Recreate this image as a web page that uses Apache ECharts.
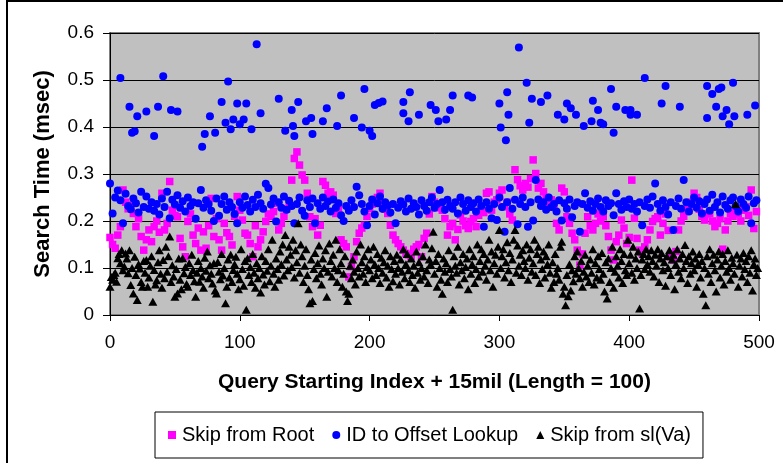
<!DOCTYPE html>
<html><head><meta charset="utf-8">
<script src="https://cdn.jsdelivr.net/npm/echarts@6/dist/echarts.min.js"></script>
<style>html,body{margin:0;padding:0;background:#fff}#c{width:783px;height:463px}</style>
</head><body><div id="c"></div>
<script>
// Query index (x) positions
const evenIndex = Array.from({length: 250}, (_, i) => i * 2);
const allIndex = Array.from({length: 500}, (_, i) => i);
const xTicks = [0, 100, 200, 300, 400, 500];
const yTicks = [0, 0.1, 0.2, 0.3, 0.4, 0.5, 0.6];

// Skip from Root (magenta), at even indexes
const skipFromRoot = [
0.165,0.150,0.142,0.170,0.188, 0.266,0.240,0.226,0.234,0.216,
0.188,0.205,0.167,0.138,0.160, 0.181,0.156,0.188,0.200,0.176,
0.259,0.181,0.195,0.284,0.223, 0.212,0.209,0.163,0.145,0.124,
0.199,0.215,0.170,0.152,0.185, 0.138,0.177,0.142,0.190,0.248,
0.167,0.205,0.160,0.138,0.195, 0.175,0.167,0.149,0.210,0.252,
0.223,0.202,0.174,0.170,0.152, 0.124,0.190,0.145,0.160,0.177,
0.199,0.215,0.210,0.220,0.238, 0.181,0.195,0.210,0.225,0.238,
0.287,0.333,0.347,0.319,0.298, 0.287,0.259,0.209,0.188,0.205,
0.170,0.191,0.284,0.276,0.259, 0.262,0.255,0.216,0.228,0.160,
0.152,0.145,0.081,0.103,0.124, 0.156,0.174,0.185,0.191,0.210,
0.227,0.236,0.245,0.250,0.259, 0.238,0.225,0.216,0.191,0.170,
0.160,0.152,0.145,0.138,0.131, 0.128,0.124,0.140,0.145,0.150,
0.124,0.163,0.174,0.215,0.252, 0.240,0.228,0.234,0.223,0.205,
0.170,0.188,0.195,0.160,0.182, 0.213,0.200,0.190,0.184,0.199,
0.205,0.188,0.212,0.225,0.218, 0.259,0.262,0.223,0.240,0.245,
0.259,0.266,0.230,0.240,0.215, 0.202,0.309,0.288,0.275,0.266,
0.280,0.272,0.290,0.330,0.301, 0.270,0.280,0.262,0.250,0.230,
0.245,0.230,0.195,0.181,0.270, 0.262,0.209,0.195,0.174,0.160,
0.138,0.106,0.130,0.174,0.209, 0.190,0.181,0.195,0.215,0.200,
0.209,0.190,0.167,0.138,0.117, 0.156,0.170,0.202,0.185,0.152,
0.165,0.287,0.206,0.163,0.138, 0.131,0.145,0.160,0.181,0.199,
0.205,0.209,0.170,0.195,0.215, 0.180,0.124,0.117,0.135,0.181,
0.200,0.210,0.225,0.223,0.240, 0.259,0.250,0.225,0.210,0.202,
0.215,0.216,0.200,0.188,0.195, 0.205,0.140,0.181,0.200,0.216,
0.210,0.228,0.215,0.200,0.223, 0.230,0.212,0.266,0.184,0.220
];

// ID to Offset Lookup (blue), main band at even indexes
const idLookupBand = [
0.280,0.216,0.250,0.265,0.244, 0.195,0.258,0.232,0.225,0.248,
0.238,0.218,0.262,0.230,0.252, 0.226,0.240,0.222,0.236,0.214,
0.248,0.230,0.262,0.206,0.245, 0.235,0.255,0.228,0.242,0.220,
0.250,0.232,0.240,0.205,0.238, 0.266,0.228,0.244,0.236,0.222,
0.200,0.248,0.211,0.236,0.252, 0.224,0.240,0.230,0.215,0.195,
0.240,0.228,0.252,0.234,0.220, 0.245,0.230,0.256,0.238,0.226,
0.279,0.270,0.235,0.248,0.199, 0.240,0.228,0.252,0.224,0.243,
0.232,0.195,0.236,0.250,0.222, 0.211,0.244,0.230,0.248,0.195,
0.238,0.226,0.250,0.232,0.242, 0.220,0.246,0.228,0.238,0.212,
0.200,0.232,0.222,0.244,0.230, 0.273,0.255,0.236,0.220,0.191,
0.232,0.246,0.214,0.238,0.252, 0.226,0.240,0.233,0.218,0.236,
0.195,0.228,0.242,0.235,0.220, 0.248,0.226,0.238,0.230,0.214,
0.244,0.232,0.222,0.240,0.250, 0.228,0.236,0.266,0.240,0.224,
0.245,0.232,0.226,0.240,0.216, 0.250,0.236,0.222,0.244,0.230,
0.238,0.220,0.246,0.232,0.188, 0.240,0.226,0.206,0.236,0.202,
0.250,0.230,0.177,0.240,0.270, 0.226,0.245,0.193,0.236,0.250,
0.230,0.188,0.240,0.201,0.287, 0.246,0.232,0.240,0.224,0.250,
0.230,0.236,0.220,0.244,0.201, 0.238,0.226,0.246,0.208,0.232,
0.240,0.177,0.236,0.259,0.228, 0.242,0.222,0.236,0.248,0.230,
0.220,0.244,0.232,0.238,0.212, 0.259,0.236,0.224,0.242,0.230,
0.246,0.226,0.236,0.220,0.240, 0.191,0.232,0.246,0.228,0.252,
0.280,0.236,0.222,0.244,0.230, 0.214,0.240,0.181,0.232,0.248,
0.226,0.287,0.240,0.220,0.236, 0.250,0.228,0.242,0.216,0.236,
0.246,0.222,0.256,0.230,0.240, 0.218,0.252,0.234,0.226,0.244,
0.250,0.232,0.220,0.246,0.236, 0.228,0.252,0.195,0.238,0.244
];

// ID to Offset Lookup (blue), slow queries: [index, msec]
const idLookupSlow = [
[8,0.504],[15,0.443],[17,0.388],[19,0.391],[21,0.423],[28,0.433],[34,0.381],[37,0.443],[41,0.508],[47,0.436],
[52,0.433],[71,0.358],[73,0.385],[77,0.423],[81,0.388],[86,0.453],[89,0.409],[91,0.497],[93,0.395],[95,0.416],
[98,0.450],[100,0.406],[103,0.416],[105,0.450],[109,0.395],[113,0.576],[116,0.429],[130,0.460],[135,0.392],[140,0.436],
[141,0.402],[142,0.381],[145,0.453],[151,0.412],[155,0.419],[156,0.385],[164,0.412],[167,0.440],[175,0.402],[178,0.467],
[188,0.419],[194,0.399],[196,0.481],[200,0.392],[202,0.381],[204,0.447],[207,0.451],[210,0.454],[226,0.453],[226,0.429],
[230,0.412],[231,0.474],[238,0.426],[247,0.447],[251,0.436],[253,0.412],[259,0.416],[262,0.436],[264,0.467],[276,0.467],
[279,0.463],[300,0.450],[301,0.399],[305,0.372],[306,0.474],[307,0.426],[315,0.569],[321,0.494],[323,0.409],[325,0.460],
[332,0.453],[337,0.467],[345,0.426],[350,0.416],[352,0.450],[355,0.440],[359,0.426],[365,0.402],[371,0.412],[372,0.456],
[376,0.436],[378,0.409],[380,0.406],[386,0.481],[388,0.388],[390,0.443],[397,0.436],[401,0.436],[401,0.426],[406,0.426],
[412,0.504],[425,0.450],[428,0.487],[439,0.443],[460,0.487],[460,0.419],[464,0.470],[467,0.443],[469,0.481],[471,0.484],
[472,0.423],[475,0.436],[477,0.406],[480,0.494],[481,0.423],[491,0.426],[497,0.446]
];

// Skip from sl(Va) (black), at every index
const skipFromSl = [
0.060,0.081,0.075,0.085,0.090,0.071,0.121,0.130,0.110,0.138,
0.095,0.103,0.131,0.120,0.089,0.138,0.064,0.100,0.046,0.124,
0.085,0.032,0.108,0.099,0.070,0.060,0.115,0.090,0.117,0.060,
0.080,0.105,0.125,0.028,0.096,0.065,0.074,0.112,0.138,0.088,
0.058,0.117,0.078,0.145,0.092,0.125,0.167,0.070,0.106,0.082,
0.039,0.098,0.046,0.120,0.075,0.055,0.121,0.089,0.102,0.066,
0.060,0.110,0.085,0.128,0.096,0.072,0.039,0.090,0.115,0.071,
0.100,0.082,0.058,0.122,0.094,0.135,0.078,0.106,0.088,0.067,
0.110,0.052,0.046,0.113,0.092,0.076,0.130,0.084,0.100,0.025,
0.060,0.118,0.080,0.128,0.070,0.096,0.108,0.124,0.088,0.055,
0.076,0.140,0.098,0.062,0.115,0.011,0.121,0.085,0.102,0.070,
0.130,0.090,0.058,0.110,0.078,0.100,0.048,0.125,0.086,0.065,
0.115,0.094,0.140,0.072,0.105,0.160,0.088,0.060,0.120,0.098,
0.075,0.135,0.108,0.150,0.084,0.170,0.118,0.095,0.145,0.128,
0.102,0.160,0.080,0.138,0.112,0.195,0.090,0.150,0.125,0.070,
0.105,0.140,0.085,0.055,0.025,0.118,0.030,0.098,0.132,0.078,
0.110,0.148,0.088,0.065,0.120,0.100,0.138,0.039,0.092,0.152,
0.115,0.082,0.128,0.100,0.160,0.070,0.095,0.140,0.110,0.060,
0.088,0.125,0.050,0.030,0.045,0.105,0.078,0.118,0.092,0.065,
0.135,0.100,0.082,0.150,0.112,0.088,0.125,0.070,0.102,0.140,
0.095,0.118,0.078,0.145,0.108,0.085,0.130,0.100,0.068,0.122,
0.090,0.112,0.138,0.080,0.105,0.060,0.125,0.098,0.072,0.115,
0.088,0.128,0.100,0.065,0.118,0.092,0.140,0.078,0.108,0.130,
0.095,0.070,0.120,0.085,0.105,0.058,0.135,0.090,0.112,0.075,
0.100,0.125,0.082,0.150,0.095,0.068,0.118,0.108,0.142,0.177,
0.088,0.115,0.060,0.130,0.100,0.075,0.045,0.120,0.092,0.110,
0.070,0.138,0.098,0.082,0.011,0.125,0.105,0.090,0.145,0.065,
0.112,0.095,0.130,0.078,0.102,0.120,0.055,0.140,0.088,0.108,
0.125,0.068,0.098,0.150,0.082,0.115,0.140,0.092,0.130,0.105,
0.075,0.118,0.160,0.095,0.135,0.060,0.110,0.128,0.088,0.145,
0.181,0.100,0.125,0.140,0.080,0.112,0.155,0.095,0.132,0.070,
0.118,0.160,0.181,0.090,0.148,0.105,0.128,0.085,0.138,0.115,
0.100,0.150,0.075,0.122,0.140,0.092,0.110,0.160,0.085,0.130,
0.145,0.068,0.118,0.098,0.135,0.080,0.125,0.108,0.150,0.090,
0.058,0.112,0.070,0.130,0.088,0.100,0.075,0.145,0.156,0.045,
0.060,0.021,0.085,0.040,0.108,0.052,0.095,0.072,0.125,0.088,
0.135,0.100,0.078,0.115,0.060,0.092,0.128,0.082,0.105,0.070,
0.118,0.090,0.140,0.065,0.110,0.080,0.125,0.098,0.075,0.132,
0.088,0.050,0.112,0.035,0.120,0.070,0.100,0.145,0.058,0.092,
0.125,0.105,0.080,0.140,0.115,0.068,0.130,0.095,0.085,0.160,
0.110,0.128,0.090,0.145,0.075,0.120,0.100,0.135,0.014,0.085,
0.118,0.130,0.098,0.140,0.108,0.125,0.092,0.138,0.115,0.082,
0.128,0.105,0.140,0.070,0.120,0.132,0.095,0.112,0.062,0.125,
0.100,0.138,0.085,0.118,0.128,0.055,0.108,0.140,0.092,0.120,
0.078,0.130,0.100,0.149,0.115,0.068,0.125,0.088,0.110,0.135,
0.095,0.120,0.060,0.108,0.130,0.080,0.115,0.045,0.100,0.021,
0.125,0.088,0.140,0.070,0.110,0.128,0.095,0.050,0.118,0.135,
0.080,0.105,0.130,0.065,0.115,0.092,0.138,0.100,0.075,0.122,
0.110,0.088,0.236,0.128,0.060,0.105,0.120,0.082,0.132,0.098,
0.115,0.070,0.125,0.090,0.138,0.052,0.108,0.120,0.085,0.100
];

const seriesNames = ['Skip from Root', 'ID to Offset Lookup', 'Skip from sl(Va)'];
const FONT = 'Liberation Sans, Arial, Helvetica, sans-serif';

const chart = echarts.init(document.getElementById('c'), null, {renderer: 'canvas'});
chart.setOption({
  animation: false,
  backgroundColor: '#ffffff',
  textStyle: {fontFamily: FONT, color: '#000'},
  graphic: [{
    type: 'rect', silent: true, z: 100,
    shape: {x: 7, y: 1, width: 800, height: 500},
    style: {fill: 'none', stroke: '#000', lineWidth: 2}
  }],
  grid: {left: 110, top: 33, width: 649, height: 282, show: true,
    backgroundColor: '#C0C0C0', borderColor: '#808080', borderWidth: 2},
  legend: {
    left: 155, top: 412, orient: 'horizontal',
    padding: [13, 12, 13, 13], itemGap: 18, itemWidth: 8, itemHeight: 8,
    borderColor: '#000', borderWidth: 1,
    textStyle: {fontFamily: FONT, fontSize: 20, color: '#000', padding: [0, 0, 0, 1]},
    data: [
      {name: seriesNames[0], icon: 'rect'},
      {name: seriesNames[1], icon: 'circle'},
      {name: seriesNames[2], icon: 'triangle'}
    ]
  },
  xAxis: {
    type: 'value', min: xTicks[0], max: xTicks[xTicks.length - 1], interval: 100,
    name: 'Query Starting Index + 15mil (Length = 100)',
    nameLocation: 'middle', nameGap: 57,
    nameTextStyle: {fontFamily: FONT, fontWeight: 'bold', fontSize: 21, color: '#000'},
    axisLine: {show: true, onZero: false, lineStyle: {color: '#000', width: 1}},
    axisTick: {show: true, length: 6, lineStyle: {color: '#000'}},
    axisLabel: {fontFamily: FONT, fontSize: 19, color: '#000', margin: 18},
    splitLine: {show: false}
  },
  yAxis: {
    type: 'value', min: yTicks[0], max: yTicks[yTicks.length - 1], interval: 0.1,
    name: 'Search Time (msec)',
    nameLocation: 'middle', nameGap: 56,
    nameTextStyle: {fontFamily: FONT, fontWeight: 'bold', fontSize: 22, color: '#000'},
    axisLine: {show: true, onZero: false, lineStyle: {color: '#000', width: 1}},
    axisTick: {show: true, length: 7, lineStyle: {color: '#000'}},
    axisLabel: {fontFamily: FONT, fontSize: 19, color: '#000', margin: 16},
    splitLine: {show: true, lineStyle: {color: '#000', width: 1}}
  },
  series: [
    {
      name: seriesNames[0], type: 'scatter', symbol: 'rect', symbolSize: 7.5,
      itemStyle: {color: '#FF00FF', opacity: 1}, z: 2,
      data: evenIndex.map((x, i) => [x, skipFromRoot[i]])
    },
    {
      name: seriesNames[1], type: 'scatter', symbol: 'circle', symbolSize: 8,
      itemStyle: {color: '#0000FF', opacity: 1}, z: 3,
      data: evenIndex.map((x, i) => [x, idLookupBand[i]]).concat(idLookupSlow)
    },
    {
      name: seriesNames[2], type: 'scatter', symbol: 'triangle', symbolSize: [9, 8],
      itemStyle: {color: '#000000', opacity: 1}, z: 4,
      data: allIndex.map((x, i) => [x, skipFromSl[i]])
    }
  ]
});
</script></body></html>
